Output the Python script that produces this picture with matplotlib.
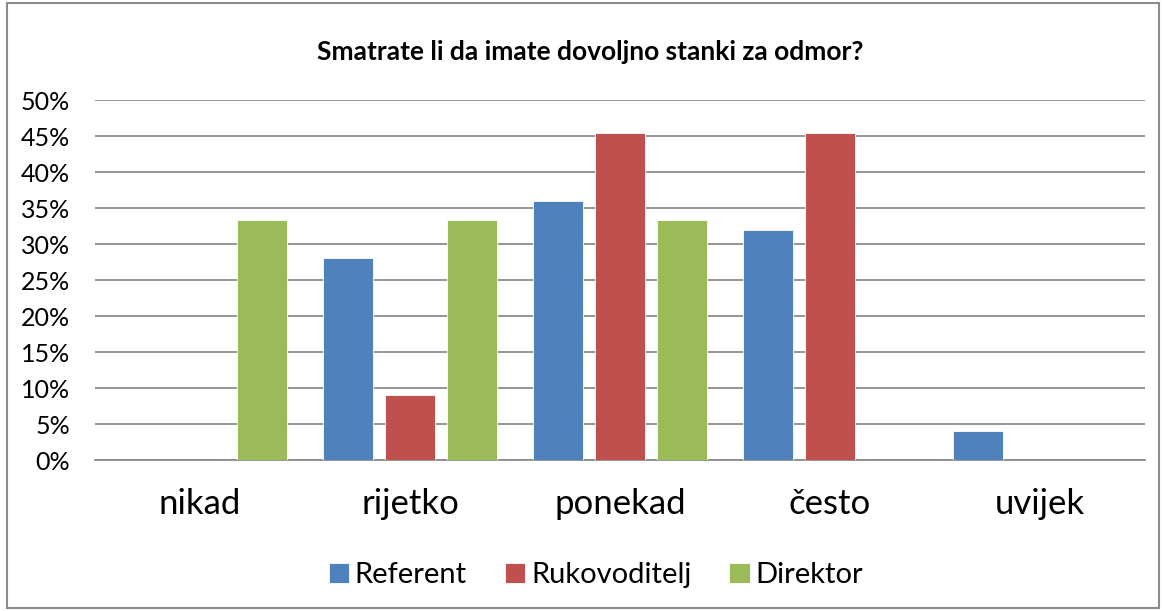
import matplotlib.pyplot as plt
from matplotlib.patches import Rectangle
from matplotlib.ticker import PercentFormatter
import numpy as np

plt.rcParams['font.family'] = ['Lato', 'DejaVu Sans']

categories = ['nikad', 'rijetko', 'ponekad', 'često', 'uvijek']
referent = [0, 28, 36, 32, 4]
rukovoditelj = [0, 9.09, 45.45, 45.45, 0]
direktor = [33.33, 33.33, 33.33, 0, 0]
series_names = ['Referent', 'Rukovoditelj', 'Direktor']
colors = ['#4F81BD', '#C0504D', '#9BBB59']

fig = plt.figure(figsize=(11.64, 6.11), dpi=100)
ax = fig.add_axes([0.0816, 0.2471, 0.9021, 0.5892])

x = np.arange(len(categories))
width = 0.238
offset = 0.295
for i, (vals, name, col) in enumerate(zip([referent, rukovoditelj, direktor], series_names, colors)):
    ax.bar(x + (i - 1) * offset, vals, width, color=col, label=name, zorder=3,
           edgecolor='white', linewidth=0.6)

ax.set_xlim(-0.5, len(categories) - 0.5)
ax.set_ylim(0, 50)
ax.set_yticks(np.arange(0, 51, 5))
ax.yaxis.set_major_formatter(PercentFormatter(decimals=0))
ax.yaxis.grid(True, color='#8c8c8c', linewidth=1.3, zorder=0)
ax.set_xticks(x)
ax.set_xticklabels(categories, fontsize=25)
ax.tick_params(axis='x', length=0, pad=20)
ax.tick_params(axis='y', length=0, labelsize=18, pad=18)
for s in ['left', 'right', 'top']:
    ax.spines[s].set_visible(False)
ax.spines['bottom'].set_color('#8c8c8c')
ax.spines['bottom'].set_linewidth(1.3)

fig.text(0.507, 0.915, 'Smatrate li da imate dovoljno stanki za odmor?',
         ha='center', va='center', fontsize=19, fontweight='bold')

ax.legend(loc='center', bbox_to_anchor=(0.477, -0.32), ncol=3, frameon=False,
          fontsize=21, handlelength=0.7, handleheight=0.7, handletextpad=0.2,
          columnspacing=1.3)

fig.patches.append(Rectangle((0.006, 0.005), 0.99, 0.99, transform=fig.transFigure,
                             fill=False, edgecolor='#8c8c8c', linewidth=1.5))

fig.savefig('out.png', dpi=100)
